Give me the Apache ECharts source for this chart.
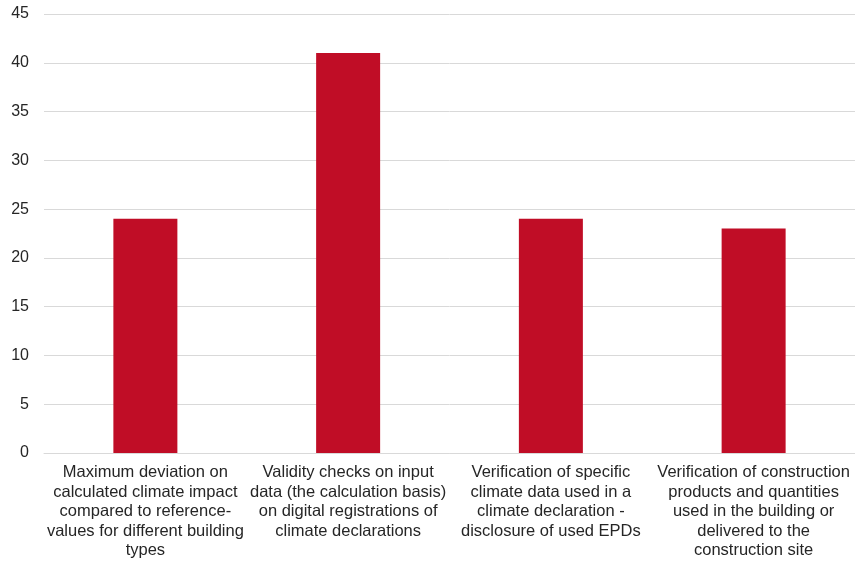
<!DOCTYPE html>
<html lang="en">
<head>
  <meta charset="UTF-8">
  <title>Climate declaration checks</title>
  <style type="text/css">
    html, body { margin: 0; padding: 0; background: #fff; }
    #main { width: 855px; height: 563px; }
  </style>
</head>
<body>
  <div id="main"></div>
  <script type="text/javascript" src="https://cdn.jsdelivr.net/npm/echarts@6/dist/echarts.min.js"></script>
  <script type="text/javascript">
    // category labels (line breaks as in the original)
    var categories = [
      'Maximum deviation on\ncalculated climate impact\ncompared to reference-\nvalues for different building\ntypes',
      'Validity checks on input\ndata (the calculation basis)\non digital registrations of\nclimate declarations',
      'Verification of specific\nclimate data used in a\nclimate declaration -\ndisclosure of used EPDs',
      'Verification of construction\nproducts and quantities\nused in the building or\ndelivered to the\nconstruction site'
    ]
    var values = [24, 41, 24, 23]

    var myChart = echarts.init(document.getElementById('main'))
    var option = {
      animation: false,
      grid: { left: 44, width: 814, top: 14, bottom: 110, containLabel: false },
      xAxis: {
        type: 'category',
        data: categories,
        axisTick: { show: false },
        axisLine: { lineStyle: { color: '#d9d9d9', width: 1 } },
        axisLabel: {
          interval: 0,
          margin: 10,
          color: '#262626',
          fontFamily: 'Liberation Sans',
          fontSize: 16.5,
          lineHeight: 19.5,
          align: 'center'
        }
      },
      yAxis: {
        type: 'value',
        min: 0,
        max: 45,
        interval: 5,
        axisLine: { show: false },
        axisTick: { show: false },
        splitLine: { lineStyle: { color: '#d9d9d9', width: 1 } },
        axisLabel: {
          margin: 15,
          color: '#262626',
          fontFamily: 'Liberation Sans',
          fontSize: 16
        }
      },
      series: [{
        type: 'bar',
        data: values,
        barWidth: 64,
        itemStyle: { color: '#c00d26' }
      }]
    }
    myChart.setOption(option)
  </script>
</body>
</html>
